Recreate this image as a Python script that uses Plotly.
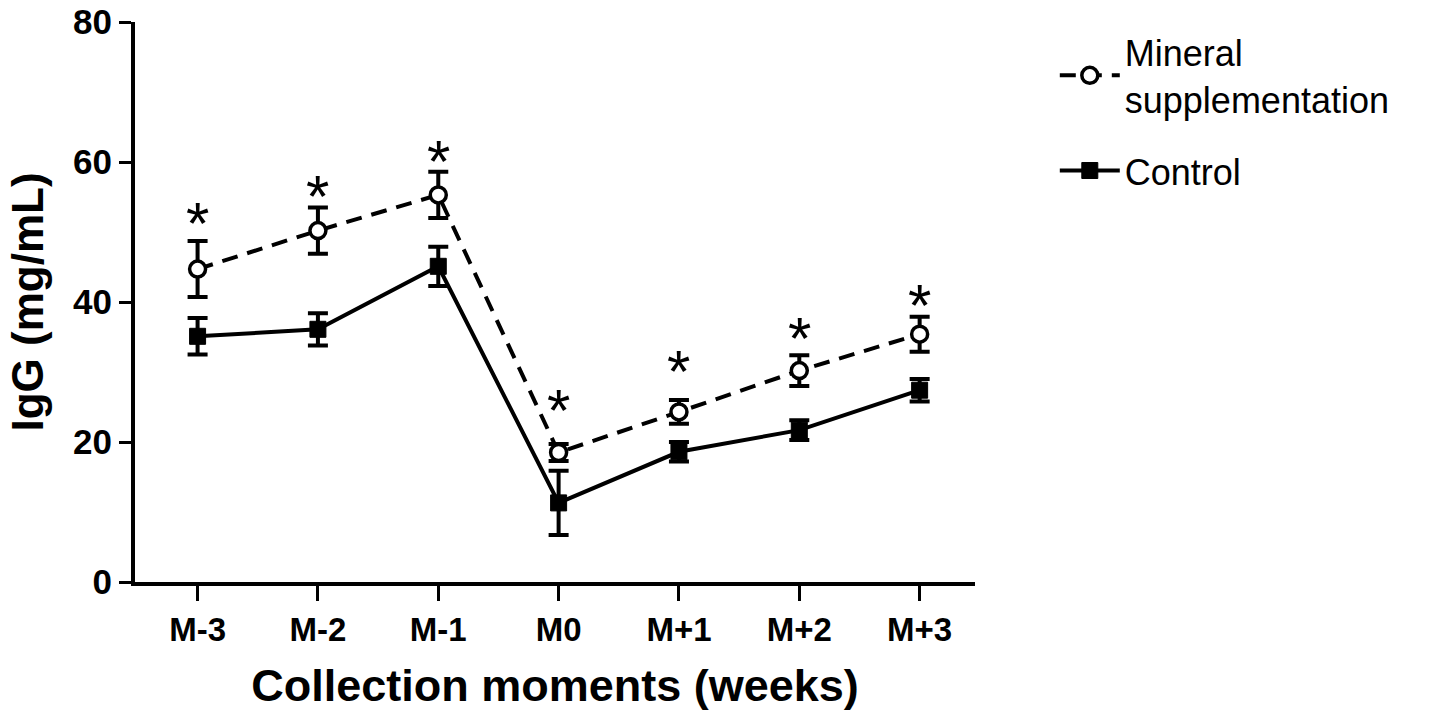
import plotly.graph_objects as go

categories = ["M-3", "M-2", "M-1", "M0", "M+1", "M+2", "M+3"]
mineral = [44.7, 50.2, 55.3, 18.5, 24.3, 30.2, 35.4]
mineral_sem = [4.0, 3.3, 3.3, 1.2, 1.7, 2.2, 2.5]
control = [35.1, 36.1, 45.1, 11.3, 18.6, 21.7, 27.4]
control_sem = [2.6, 2.3, 2.8, 4.6, 1.4, 1.4, 1.6]
star_labels = ["*", "*", "*", "*", "*", "*", "*"]
star_y = [53.1, 57.0, 62.0, 26.3, 32.0, 36.7, 41.3]

FONT = "Arial, Liberation Sans, sans-serif"
xidx = list(range(len(categories)))

fig = go.Figure()
fig.add_trace(go.Scatter(
    x=xidx, y=mineral, name="Mineral<br>supplementation", mode="lines+markers",
    legendgroup="mineral",
    line=dict(color="black", width=4, dash="16px,10px"),
    marker=dict(symbol="circle", size=16, color="white", line=dict(color="black", width=3.5)),
    error_y=dict(type="data", array=mineral_sem, color="black", thickness=4, width=10),
))
fig.add_trace(go.Scatter(
    x=xidx, y=control, name="Control", mode="lines+markers",
    legendgroup="control",
    line=dict(color="black", width=4),
    marker=dict(symbol="square", size=16, color="black", line=dict(color="black", width=1)),
    error_y=dict(type="data", array=control_sem, color="black", thickness=4, width=10),
))

for i, s in enumerate(star_labels):
    fig.add_annotation(x=xidx[i], y=star_y[i], text=s, showarrow=False,
                       yanchor="middle", yshift=-13,
                       font=dict(family=FONT, size=60, color="black"))

fig.update_layout(
    width=1442, height=711,
    margin=dict(l=135, r=467, t=22, b=129),
    plot_bgcolor="white", paper_bgcolor="white",
    showlegend=True,
    legend=dict(x=1.095, y=1.0, xanchor="left", yanchor="top",
                font=dict(family=FONT, size=36, color="black"),
                traceorder="grouped", tracegroupgap=22, itemwidth=60,
                bgcolor="rgba(0,0,0,0)"),
    xaxis=dict(
        range=[-0.52, 6.46], tickmode="array", tickvals=xidx, ticktext=categories,
        showline=True, linecolor="black", linewidth=4, ticks="outside", ticklen=15,
        tickwidth=3, tickcolor="black", showgrid=False, zeroline=False, automargin=False,
        tickfont=dict(family=FONT, size=33, color="black", weight="bold"),
        title=dict(text="<b>Collection moments (weeks)</b>", font=dict(family=FONT, size=45, color="black"), standoff=24),
    ),
    yaxis=dict(
        range=[0, 80], tickvals=[0, 20, 40, 60, 80],
        showline=True, linecolor="black", linewidth=4, ticks="outside", ticklen=12,
        tickwidth=3, tickcolor="black", showgrid=False, zeroline=False, automargin=False,
        ticklabeloverflow="allow",
        tickfont=dict(family=FONT, size=35, color="black", weight="bold"),
        title=dict(text="<b>IgG (mg/mL)</b>", font=dict(family=FONT, size=44, color="black"), standoff=17),
    ),
)

fig.write_html("out.html", config={"displayModeBar": False},
               post_script="document.body.style.margin='0';document.body.style.overflow='hidden';")
